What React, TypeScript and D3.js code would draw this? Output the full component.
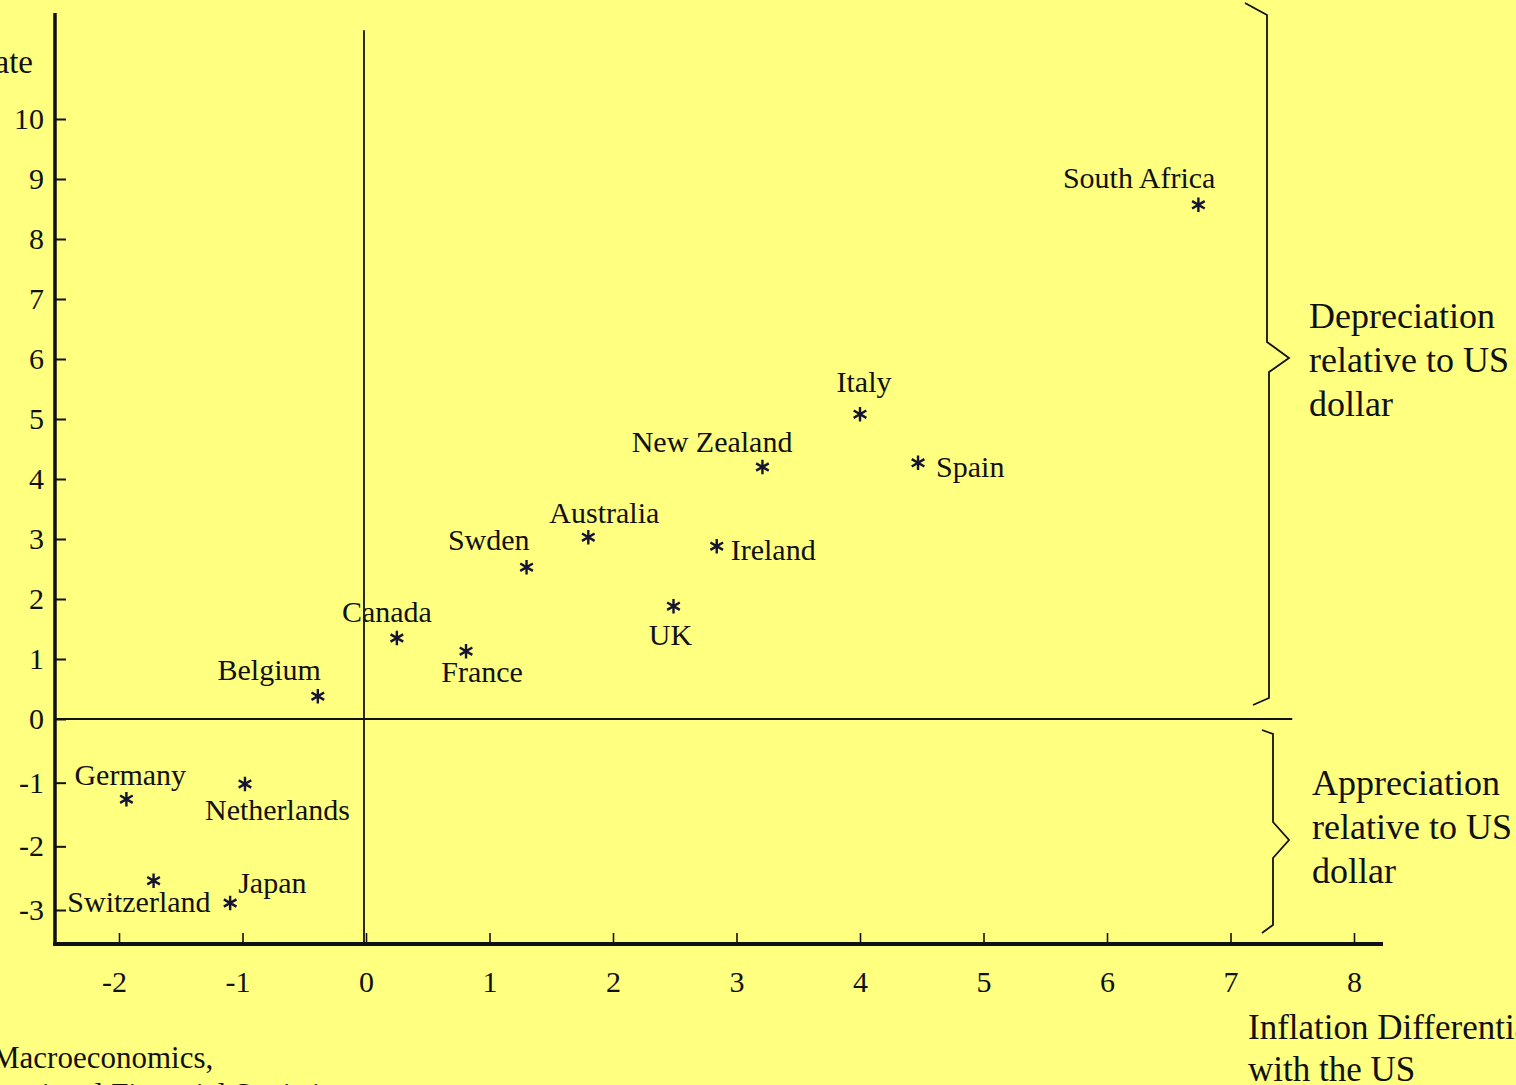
import React, {useEffect, useRef} from "react";
import * as d3 from "d3";

// inflation differential with the US (x) vs. depreciation rate (y)
const countries = ["South Africa", "Italy", "New Zealand", "Spain", "Australia", "Ireland", "Swden", "UK",
    "Canada", "France", "Belgium", "Germany", "Netherlands", "Switzerland", "Japan"];
const inflationDiff = [6.74, 4.0, 3.21, 4.47, 1.8, 2.84, 1.3, 2.49, 0.25, 0.81, -0.39, -1.94, -0.98, -1.72, -1.1];
const depreciation = [8.57, 5.08, 4.2, 4.27, 3.03, 2.88, 2.53, 1.88, 1.35, 1.13, 0.38, -1.26, -1.02, -2.54, -2.89];

const xTicks = [-2, -1, 0, 1, 2, 3, 4, 5, 6, 7, 8];
const yTicks = [10, 9, 8, 7, 6, 5, 4, 3, 2, 1, 0, -1, -2, -3];

// label placement relative to each asterisk: [anchor, dx, dy]
const labelPlacement: Record<string, [string, number, number]> = {
    "South Africa": ["end", 17, -17],
    "Italy": ["middle", 4, -22],
    "New Zealand": ["end", 30, -15],
    "Spain": ["start", 18, 14],
    "Australia": ["middle", 16, -14],
    "Ireland": ["start", 14, 14],
    "Swden": ["end", 3, -17],
    "UK": ["middle", -3, 39],
    "Canada": ["middle", -10, -16],
    "France": ["middle", 16, 31],
    "Belgium": ["end", 3, -16],
    "Germany": ["start", -52, -14],
    "Netherlands": ["start", -40, 36],
    "Switzerland": ["end", 57, 31],
    "Japan": ["start", 8, -10],
};

const W = 1516;
const H = 1085;
const FONT = "'Liberation Serif', 'Times New Roman', serif";
const INK = "#111";

const App = () => {
    const ref = useRef<SVGSVGElement>(null);

    useEffect(() => {
        const svg = d3.select(ref.current);
        svg.selectAll("*").remove();

        svg.append("rect").attr("width", W).attr("height", H).attr("fill", "#ffff80");

        const x = d3.scaleLinear().domain([-2, 8]).range([119, 1354]);
        const y = d3.scaleLinear().domain([-3, 0, 10]).range([910, 719, 119]);

        const axisY = 944;
        const axisX = 55;

        // x axis ticks (pointing up) and labels
        const gx = svg.append("g").attr("transform", `translate(0,${axisY})`)
            .call(d3.axisBottom(x).tickValues(xTicks).tickSizeInner(-11).tickSizeOuter(0).tickPadding(27)
                .tickFormat(d => `${d}`));
        gx.select(".domain").remove();
        gx.selectAll("line").attr("stroke", INK).attr("stroke-width", 1.6);
        gx.selectAll("text").attr("font-family", FONT).attr("font-size", 30).attr("fill", INK)
            .attr("dx", d => (d as number) < 0 ? -5 : 0);

        // y axis ticks (pointing right) and labels
        const gy = svg.append("g").attr("transform", `translate(${axisX},0)`)
            .call(d3.axisLeft(y).tickValues(yTicks).tickSizeInner(-11).tickSizeOuter(0).tickPadding(11)
                .tickFormat(d => `${d}`));
        gy.select(".domain").remove();
        gy.selectAll("line").attr("stroke", INK).attr("stroke-width", 2);
        gy.selectAll("text").attr("font-family", FONT).attr("font-size", 30).attr("fill", INK);

        // thick axis lines
        svg.append("line").attr("x1", axisX).attr("x2", axisX).attr("y1", 13).attr("y2", axisY + 2)
            .attr("stroke", INK).attr("stroke-width", 3.5);
        svg.append("line").attr("x1", axisX - 2).attr("x2", 1383).attr("y1", axisY).attr("y2", axisY)
            .attr("stroke", INK).attr("stroke-width", 4);

        // zero lines
        svg.append("line").attr("x1", x(0) - 2).attr("x2", x(0) - 2).attr("y1", y(11.48)).attr("y2", axisY)
            .attr("stroke", INK).attr("stroke-width", 1.8);
        svg.append("line").attr("x1", axisX).attr("x2", x(7.5)).attr("y1", y(0)).attr("y2", y(0))
            .attr("stroke", INK).attr("stroke-width", 1.8);

        // points
        const data = countries.map((c, i) => ({c, x: inflationDiff[i], y: depreciation[i]}));
        const star = d3.symbol().type(d3.symbolAsterisk).size(150);
        const pts = svg.append("g").selectAll("g").data(data).join("g")
            .attr("transform", d => `translate(${x(d.x)},${y(d.y)})`);
        pts.append("path").attr("d", star()).attr("fill", "none")
            .attr("stroke", "#141433").attr("stroke-width", 2.4);
        pts.append("text")
            .attr("text-anchor", d => labelPlacement[d.c][0])
            .attr("x", d => labelPlacement[d.c][1])
            .attr("y", d => labelPlacement[d.c][2])
            .attr("font-family", FONT).attr("font-size", 30).attr("fill", INK)
            .text(d => d.c);

        // braces
        const brace = d3.line();
        svg.append("path")
            .attr("d", brace([[1245, 3], [1267, 15], [1267, 342], [1289, 358], [1269, 372], [1269, 698], [1253, 705]]))
            .attr("fill", "none").attr("stroke", INK).attr("stroke-width", 1.8);
        svg.append("path")
            .attr("d", brace([[1262, 730], [1273, 734], [1273, 822], [1289, 840], [1273, 858], [1273, 925], [1262, 933]]))
            .attr("fill", "none").attr("stroke", INK).attr("stroke-width", 1.8);

        const note = (lines: string[], x0: number, y0: number, size: number, step: number) => {
            const t = svg.append("text").attr("font-family", FONT).attr("font-size", size).attr("fill", INK);
            lines.forEach((l, i) => t.append("tspan").attr("x", x0).attr("y", y0 + i * step).text(l));
        };
        note(["Depreciation", "relative to US", "dollar"], 1309, 328, 36, 44);
        note(["Appreciation", "relative to US", "dollar"], 1312, 795, 36, 44);
        note(["Inflation Differential", "with the US"], 1248, 1039, 35, 42);
        note(["Macroeconomics,"], -8, 1068, 31, 34);
        note(["International Financial Statistics"], -55, 1105, 31, 34);

        svg.append("text").attr("x", 33).attr("y", 73).attr("text-anchor", "end")
            .attr("font-family", FONT).attr("font-size", 33).attr("fill", INK).text("Exchange rate");
    }, []);

    return (
        <svg
            ref={ref}
            width={W}
            height={H}
            style={{position: "absolute", left: 0, top: 0, display: "block"}}
        />
    );
};

export default App;
